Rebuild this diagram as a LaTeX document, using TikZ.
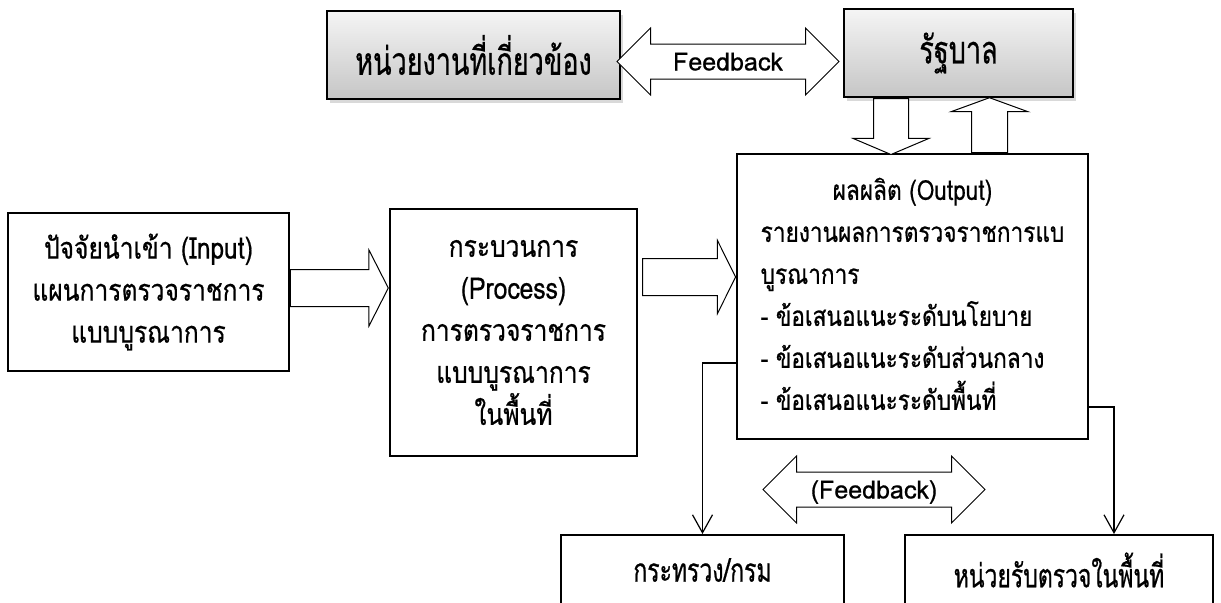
\documentclass[tikz,border=0pt]{standalone}
\usepackage{fontspec}
\setmainfont{Loma}[Script=Thai, FakeBold=0.6]
\newfontfamily\slimthai{Loma}[Script=Thai, FakeStretch=0.82, FakeBold=0.6]
\newfontfamily\narrowthai{Loma}[Script=Thai, FakeStretch=0.7, FakeBold=0.6]
\usetikzlibrary{shapes.arrows,shadows,arrows.meta}

\begin{document}
\begin{tikzpicture}[x=0.5pt, y=-0.5pt,
        box/.style={draw, line width=0.8pt, align=center, inner sep=0pt, font=\slimthai\fontsize{15}{21}\selectfont},
        graybox/.style={box, line width=1pt, top color=gray!8, bottom color=gray!45,
            font=\narrowthai\fontsize{19.3}{22}\selectfont,
            drop shadow={opacity=0.3, shadow xshift=1.5pt, shadow yshift=-2pt}},
        lowbox/.style={box, line width=1pt, font=\narrowthai\fontsize{16.4}{21}\selectfont},
        fatarrow/.style={single arrow, draw, line width=0.5pt, fill=white, inner sep=0pt, single arrow head indent=0pt},
        fbarrow/.style={double arrow, draw, line width=0.5pt, fill=white, inner sep=0pt,
            double arrow tip angle=90, double arrow head extend=8pt, text height=13pt, text depth=4pt,
            font=\fontsize{12.5}{14}\selectfont},
        conn/.style={line width=0.6pt, -{Straight Barb[length=9pt, width=10pt, line width=0.6pt]}}]
    \useasboundingbox (0,0) rectangle (1221,602);

    % boxes
    \node[graybox, minimum width=146.5pt, minimum height=44pt] (agency) at (473.5,55) {หน่วยงานที่เกี่ยวข้อง};
    \node[graybox, minimum width=114.5pt, minimum height=44pt] (gov) at (958.5,53) {รัฐบาล};
    \node[box, minimum width=140.5pt, minimum height=79pt] (input) at (148.5,292)
        {ปัจจัยนำเข้า (Input)\\แผนการตรวจราชการ\\แบบบูรณาการ};
    \node[box, minimum width=123.5pt, minimum height=123.5pt] (process) at (513.5,332.5)
        {กระบวนการ\\(Process)\\การตรวจราชการ\\แบบบูรณาการ\\ในพื้นที่};
    \node[box, minimum width=175.5pt, minimum height=142.5pt, font=\slimthai\fontsize{13.8}{21}\selectfont]
        (output) at (912.5,296.5) {%
        \begin{tabular}{@{}l@{}}
            \multicolumn{1}{@{}c@{}}{ผลผลิต (Output)}\\
            รายงานผลการตรวจราชการแบ\\
            บูรณาการ\\
            - ข้อเสนอแนะระดับนโยบาย\\
            - ข้อเสนอแนะระดับส่วนกลาง\\
            - ข้อเสนอแนะระดับพื้นที่
        \end{tabular}};
    \node[lowbox, minimum width=141.5pt, minimum height=35pt] (ministry) at (702.5,570) {กระทรวง/กรม};
    \node[lowbox, minimum width=154pt, minimum height=35pt] (unit) at (1059,570) {หน่วยรับตรวจในพื้นที่};

    % block arrows
    \node[fatarrow, inner ysep=9pt, single arrow head extend=9.75pt, single arrow tip angle=126,
        minimum height=49pt, anchor=tail] (in2proc) at (input.east |- 0,288) {};
    \node[fatarrow, inner ysep=9pt, single arrow head extend=9pt, single arrow tip angle=127,
        minimum height=46.5pt, anchor=tip] (proc2out) at (output.west |- 0,277) {};
    \node[fatarrow, inner ysep=8.5pt, single arrow head extend=10.25pt, single arrow tip angle=134,
        minimum height=28pt, rotate=-90, anchor=tail] (gov2out) at ([xshift=-33.75pt]gov.south) {};
    \node[fatarrow, inner ysep=8.75pt, single arrow head extend=10.25pt, single arrow tip angle=140,
        minimum height=27.5pt, rotate=90, anchor=tail] (out2gov) at ([xshift=38.5pt]output.north) {};

    % feedback
    \node[fbarrow, minimum height=111pt] (fbtop) at (728,61.5) {Feedback};
    \node[fbarrow, minimum height=111pt] (fblow) at (874,489.5) {(Feedback)};

    % lines down
    \draw[conn] (output.west |- 0,363) -| (ministry.north);
    \draw[conn] (output.east |- 0,407) -| ([xshift=27.5pt]unit.north);
\end{tikzpicture}
\end{document}
